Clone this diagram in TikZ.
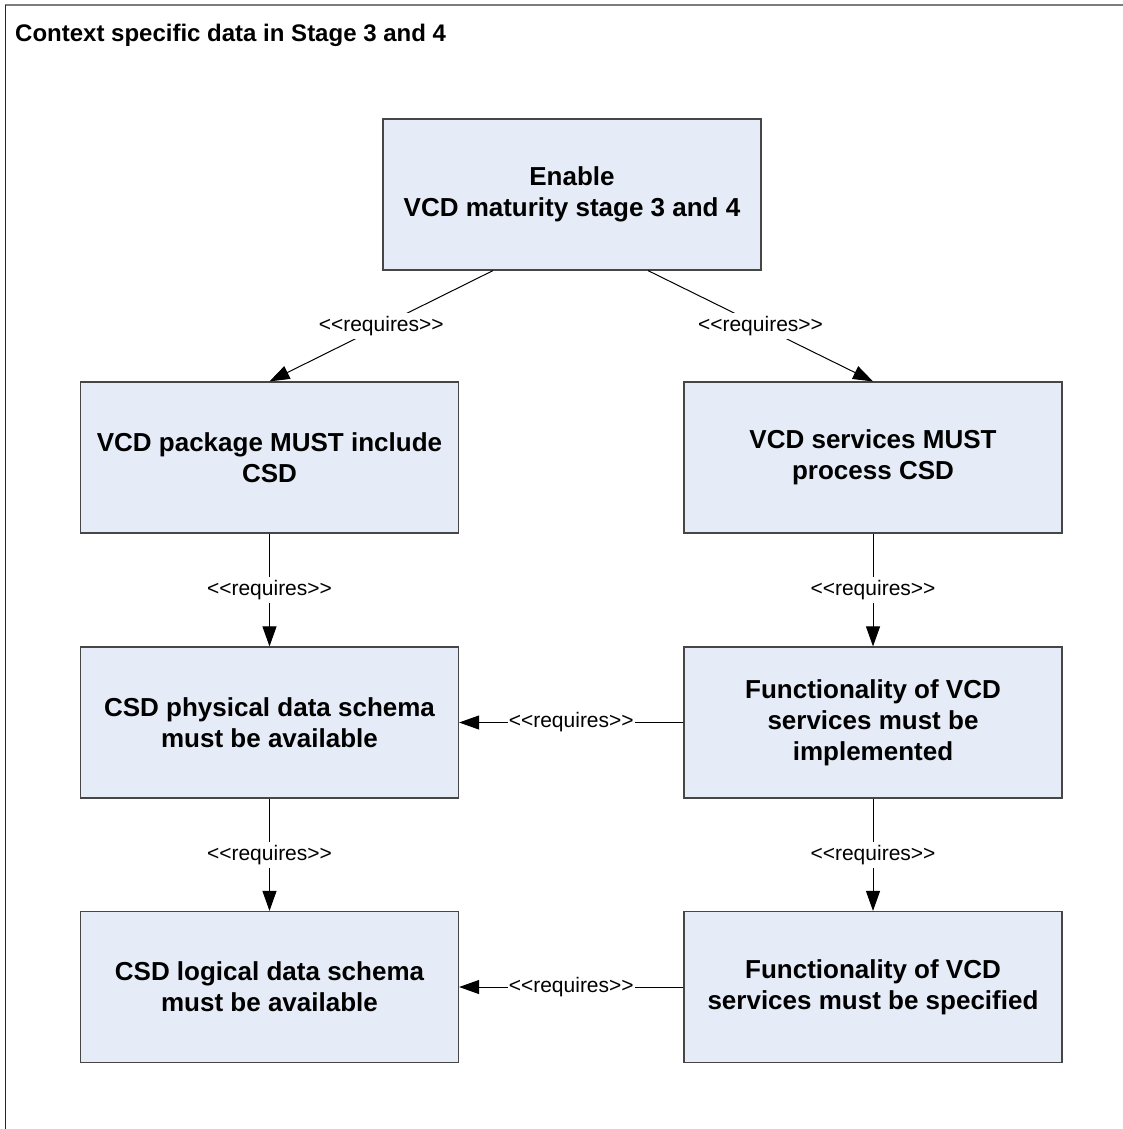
\documentclass[tikz,border=0pt]{standalone}
\usepackage{fontspec}
\setmainfont{Liberation Sans}
\usetikzlibrary{arrows.meta}

\definecolor{boxfill}{RGB}{230,236,247}
\definecolor{boxline}{RGB}{70,70,70}
\definecolor{frametop}{RGB}{125,125,125}

% stereotype text, kept apart so that << and >> stay as two signs each
\newcommand{\reqtext}{<\kern0pt<requires>\kern0pt>}

\tikzset{
  reqbox/.style={draw=boxline, line width=1.2pt, fill=boxfill,
    minimum width=378pt, minimum height=151pt, align=center,
    inner sep=0pt, font=\fontsize{26}{31}\selectfont\bfseries},
  reqedge/.style={draw=black, line width=1pt,
    -{Triangle[length=20pt,width=14pt]}},
  reqlabel/.style={fill=white, inner sep=3pt,
    font=\fontsize{21}{24}\selectfont}
}

\begin{document}
\begin{tikzpicture}[x=1pt, y=-1pt]
  \useasboundingbox (0,0) rectangle (1123,1129);
  \fill[white] (0,0) rectangle (1123,1129);

  % outer frame (left and top edges)
  \draw[frametop, line width=2pt] (5,5) -- (1123,5);
  \draw[black!85, line width=1.3pt] (5.5,5) -- (5.5,1129);

  % title
  \node[anchor=base west, inner sep=0pt,
        font=\fontsize{24}{28}\selectfont\bfseries] (title) at (15,42)
    {Context specific data in Stage 3 and 4};

  % requirement boxes
  \node[reqbox] (top) at (572,194.5) {Enable\\VCD maturity stage 3 and 4};
  \node[reqbox] (pkg) at (269.5,457.5) {VCD package MUST include\\CSD};
  \node[reqbox] (svc) at (873,457.5) {VCD services MUST\\process CSD};
  \node[reqbox] (phys) at (269.5,722.5) {CSD physical data schema\\must be available};
  \node[reqbox] (impl) at (873,722.5) {Functionality of VCD\\services must be\\implemented};
  \node[reqbox] (logi) at (269.5,987) {CSD logical data schema\\must be available};
  \node[reqbox] (spec) at (873,987) {Functionality of VCD\\services must be specified};

  % dependencies
  \draw[reqedge] ([xshift=-79pt]top.south) -- node[reqlabel] {\reqtext} (pkg.north);
  \draw[reqedge] ([xshift=76pt]top.south) -- node[reqlabel] {\reqtext} (svc.north);
  \draw[reqedge] (pkg.south) -- node[reqlabel] {\reqtext} (phys.north);
  \draw[reqedge] (svc.south) -- node[reqlabel] {\reqtext} (impl.north);
  \draw[reqedge] (impl.west) -- node[reqlabel, inner sep=1pt] {\reqtext} (phys.east);
  \draw[reqedge] (phys.south) -- node[reqlabel] {\reqtext} (logi.north);
  \draw[reqedge] (impl.south) -- node[reqlabel] {\reqtext} (spec.north);
  \draw[reqedge] (spec.west) -- node[reqlabel, inner sep=1pt] {\reqtext} (logi.east);
\end{tikzpicture}
\end{document}
